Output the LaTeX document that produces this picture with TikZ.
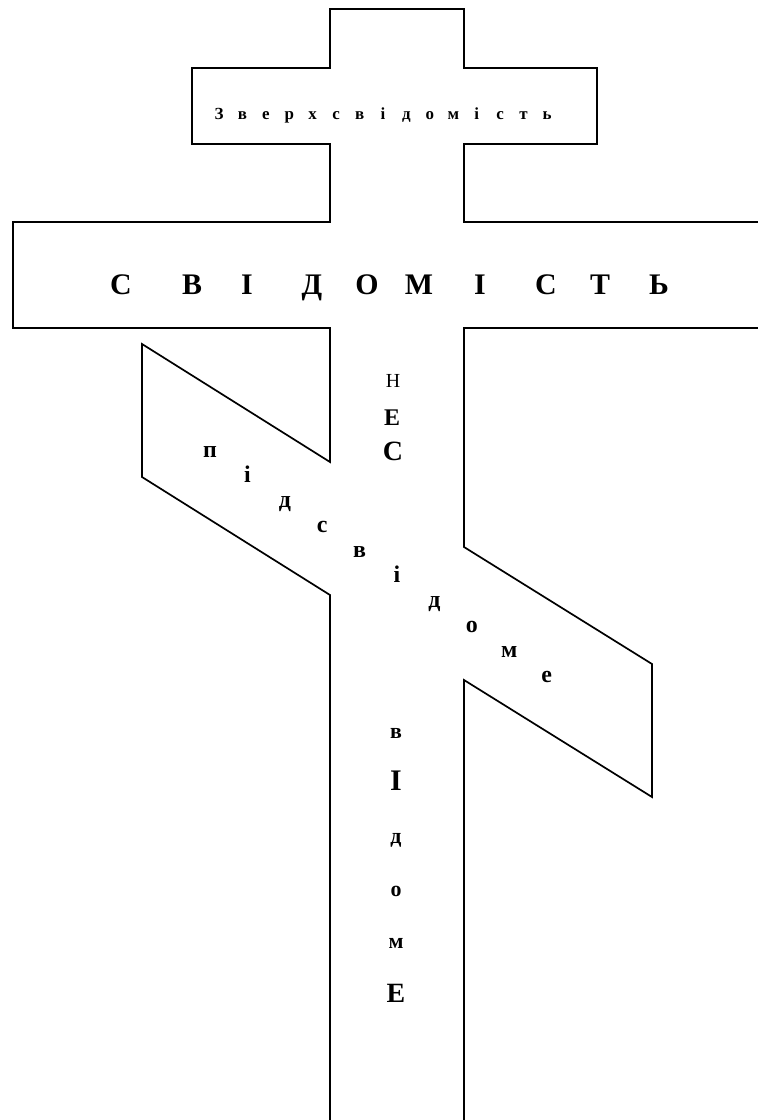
\documentclass[tikz,border=0pt]{standalone}
\usepackage{fontspec}
\setmainfont{Liberation Serif}

\begin{document}
\begin{tikzpicture}[
  x=1bp, y=-1bp,
  outline/.style={draw, line width=1.7bp},
  letter/.style={inner sep=0pt, anchor=base},
  bigltr/.style={letter, font=\bfseries\fontsize{30}{30}\selectfont},
  smallltr/.style={letter, font=\bfseries\fontsize{17}{17}\selectfont},
  diagltr/.style={letter, font=\bfseries\fontsize{24}{24}\selectfont}
]
\useasboundingbox (0,0) rectangle (758,1120);

% cross outline
\draw[outline] (330,1120) -- (330,595) -- (142,477) -- (142,344) -- (330,462)
  -- (330,328) -- (13,328) -- (13,222) -- (330,222) -- (330,144) -- (192,144)
  -- (192,68) -- (330,68) -- (330,9) -- (464,9) -- (464,68) -- (597,68)
  -- (597,144) -- (464,144) -- (464,222) -- (758,222);
\draw[outline] (758,328) -- (464,328) -- (464,547) -- (652,664) -- (652,797)
  -- (464,680) -- (464,1120);

% top bar
\foreach \ch [count=\i from 0] in {З,в,е,р,х,с,в,і,д,о,м,і,с,т,ь}
  \node[smallltr] (top\i) at ({219+23.43*\i},119) {\ch};

% main bar
\foreach \ch/\px [count=\i] in {С/121,В/192,І/247,Д/312,О/367,М/419,І/480,С/546,Т/600,Ь/659}
  \node[bigltr] (main\i) at (\px,294) {\ch};

% vertical, upper part
\node[letter, font=\fontsize{20}{20}\selectfont] (ne1) at (393,387) {Н};
\node[letter, font=\bfseries\fontsize{24}{24}\selectfont] (ne2) at (392,425) {Е};
\node[letter, font=\bfseries\fontsize{28}{28}\selectfont] (ne3) at (393,460) {С};

% slanted bar
\foreach \ch [count=\i from 0] in {п,і,д,с,в,і,д,о,м,е}
  \node[diagltr] (sub\i) at ({210+37.4*\i},{457+25*\i}) {\ch};

% vertical, lower part
\foreach \ch/\py/\fs [count=\i] in {в/738/22,І/790/30,д/843/22,о/896/22,м/948/22,Е/1002/28}
  \node[letter, font=\bfseries\fontsize{\fs}{\fs}\selectfont] (low\i) at (396,\py) {\ch};
\end{tikzpicture}
\end{document}
